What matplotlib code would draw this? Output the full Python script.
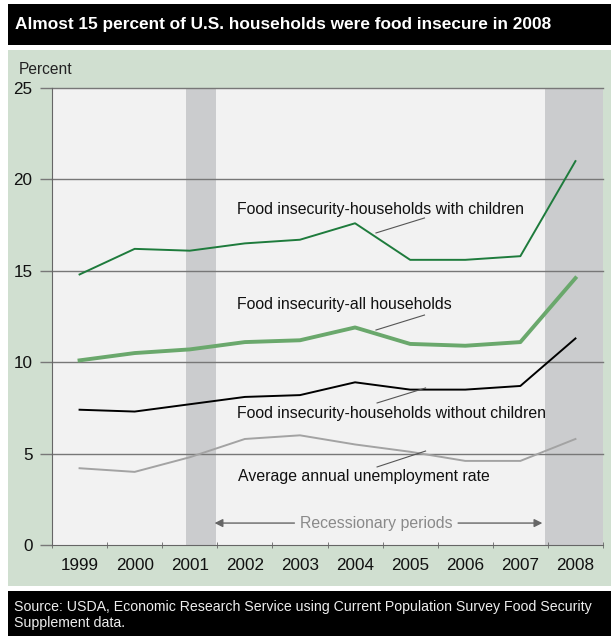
import matplotlib.pyplot as plt
import matplotlib as mpl
from matplotlib.patches import Rectangle

mpl.rcParams['font.family'] = ['Liberation Sans', 'DejaVu Sans']

years = ['1999', '2000', '2001', '2002', '2003', '2004', '2005', '2006', '2007', '2008']
with_children = [14.8, 16.2, 16.1, 16.5, 16.7, 17.6, 15.6, 15.6, 15.8, 21.0]
all_households = [10.1, 10.5, 10.7, 11.1, 11.2, 11.9, 11.0, 10.9, 11.1, 14.6]
without_children = [7.4, 7.3, 7.7, 8.1, 8.2, 8.9, 8.5, 8.5, 8.7, 11.3]
unemployment = [4.2, 4.0, 4.8, 5.8, 6.0, 5.5, 5.1, 4.6, 4.6, 5.8]

# recession spans in year-index units (Mar-Nov 2001, Dec 2007 on)
recessions = [(1.93, 2.47), (8.45, 9.5)]

# label text, text position, leader line start/end
labels = [
    ('Food insecurity-households with children', (2.86, 18.38), (5.38, 17.07), (6.26, 17.89)),
    ('Food insecurity-all households', (2.86, 13.13), (5.38, 11.76), (6.26, 12.58)),
    ('Food insecurity-households without children', (2.86, 7.22), (5.40, 7.77), (6.28, 8.59)),
    ('Average annual unemployment rate', (2.88, 3.72), (5.40, 4.27), (6.28, 5.14)),
]

W, H = 611, 636
fig = plt.figure(figsize=(W / 100, H / 100), dpi=100)
fig.patch.set_facecolor('white')


def px_rect(x0, y0, x1, y1, color):
    fig.patches.append(Rectangle((x0 / W, 1 - y1 / H), (x1 - x0) / W, (y1 - y0) / H,
                                 transform=fig.transFigure, facecolor=color,
                                 edgecolor='none', zorder=0))


px_rect(8, 4, 611, 45, 'black')
px_rect(8, 50, 611, 586, '#d0dfd0')
px_rect(8, 591, 611, 636, 'black')

fig.text(15 / W, 1 - 24 / H, 'Almost 15 percent of U.S. households were food insecure in 2008',
         color='white', fontsize=12.4, fontweight='bold', va='center', ha='left')
fig.text(14 / W, 1 - 607 / H, 'Source: USDA, Economic Research Service using Current Population Survey Food Security',
         color='#eeeeee', fontsize=10.2, va='center', ha='left')
fig.text(14 / W, 1 - 623 / H, 'Supplement data.', color='#eeeeee', fontsize=10.2, va='center', ha='left')
fig.text(19 / W, 1 - 70 / H, 'Percent', fontsize=11.2, va='center', ha='left', color='#222222')

ax = fig.add_axes([52 / W, (636 - 545) / H, (603 - 52) / W, (545 - 88) / H])
ax.set_facecolor('#f2f2f2')
ax.set_zorder(1)

for x0, x1 in recessions:
    ax.axvspan(x0, x1, color='#cbccce', lw=0, zorder=0)

x = list(range(len(years)))
ax.plot(x, with_children, color='#1e7b3c', lw=1.4, zorder=3)
ax.plot(x, all_households, color='#6aa86c', lw=2.8, zorder=3)
ax.plot(x, without_children, color='black', lw=1.4, zorder=3)
ax.plot(x, unemployment, color='#a3a3a3', lw=1.4, zorder=3)

for text, (tx, ty), (lx0, ly0), (lx1, ly1) in labels:
    ax.text(tx, ty, text, fontsize=11.4, va='center', ha='left', color='#111111', zorder=4)
    ax.plot([lx0, lx1], [ly0, ly1], color='#555555', lw=0.8, zorder=4)

ax.text(5.38, 1.2, 'Recessionary periods', fontsize=11.4, color='#8a8a8a', ha='center', va='center')
ax.annotate('', xy=(2.40, 1.2), xytext=(3.95, 1.2),
            arrowprops=dict(arrowstyle='-|>', color='#666666', lw=1, mutation_scale=12))
ax.annotate('', xy=(8.45, 1.2), xytext=(6.82, 1.2),
            arrowprops=dict(arrowstyle='-|>', color='#666666', lw=1, mutation_scale=12))

ax.set_xlim(-0.5, 9.5)
ax.set_ylim(0, 25)
ax.set_yticks([0, 5, 10, 15, 20, 25])
ax.set_yticklabels(['0', '5', '10', '15', '20', '25'])
for yv in [5, 10, 15, 20, 25]:
    ax.axhline(yv, color='#777777', lw=1, zorder=2, clip_on=False)
ax.set_xticks(x)
ax.set_xticklabels(years)
ax.set_xticks([i + 0.5 for i in range(-1, 10)], minor=True)
ax.tick_params(axis='x', which='major', length=0, pad=9, labelsize=12.3, colors='#111111')
ax.tick_params(axis='x', which='minor', length=4, direction='inout', color='#666666')
ax.tick_params(axis='y', length=9, width=1, color='#777777', pad=5, labelsize=12.3, labelcolor='#111111')

for side in ['top', 'right']:
    ax.spines[side].set_visible(False)
ax.spines['left'].set_color('#666666')
ax.spines['bottom'].set_color('#666666')

fig.savefig('out.png', dpi=100)
